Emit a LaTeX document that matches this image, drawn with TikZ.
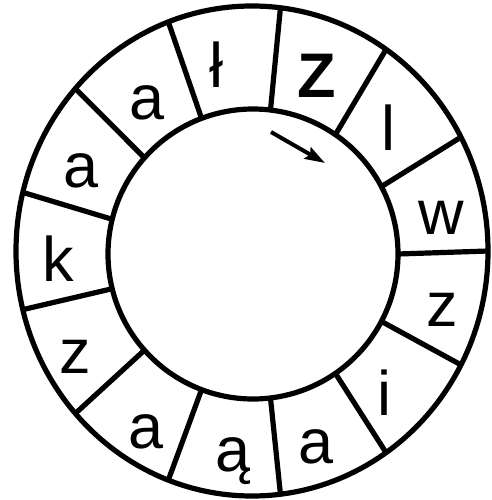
\documentclass[tikz,border=0pt]{standalone}
\usepackage{fontspec}
\setmainfont{Liberation Sans}
\usetikzlibrary{arrows.meta}
\begin{document}
\begin{tikzpicture}[x=1pt,y=-1pt,
  ring/.style={line width=5.2pt},
  letter/.style={font=\fontsize{63}{63}\selectfont, inner sep=0pt, anchor=center},
  pointer/.style={line width=4pt, -{Stealth[length=20pt,width=13pt,inset=3pt]}}]
\useasboundingbox (0,0) rectangle (491,500);
\draw[ring] (252,251) ellipse [x radius=236, y radius=245];
\draw[ring] (253,254) circle [radius=145];
\foreach \k in {0,...,12} {
  \pgfmathsetmacro\t{\k*360/13}
  \draw[ring] ({253+145*cos(\t)},{254-145*sin(\t)}) -- ({252+236*cos(\t)},{251-245*sin(\t)});
}
\node[letter] (w)  at (441,218) {w};
\node[letter] (l)  at (388,128) {l};
\node[letter,font=\fontsize{63}{63}\selectfont\bfseries] (Z) at (317,76) {Z};
\node[letter] (lstroke) at (216,65) {ł};
\node[letter] (a1) at (147,103) {a};
\node[letter] (a2) at (81,171) {a};
\node[letter] (k)  at (58,259) {k};
\node[letter] (z1) at (75,357) {z};
\node[letter] (a3) at (146,432) {a};
\node[letter] (aog) at (233,461) {ą};
\node[letter] (a4) at (316,447) {a};
\node[letter] (i)  at (384,393) {i};
\node[letter] (z2) at (442,310) {z};
\coordinate (arrS) at (271,132);
\coordinate (arrE) at (325,163);
\draw[pointer] (arrS) -- (arrE);
\end{tikzpicture}
\end{document}
